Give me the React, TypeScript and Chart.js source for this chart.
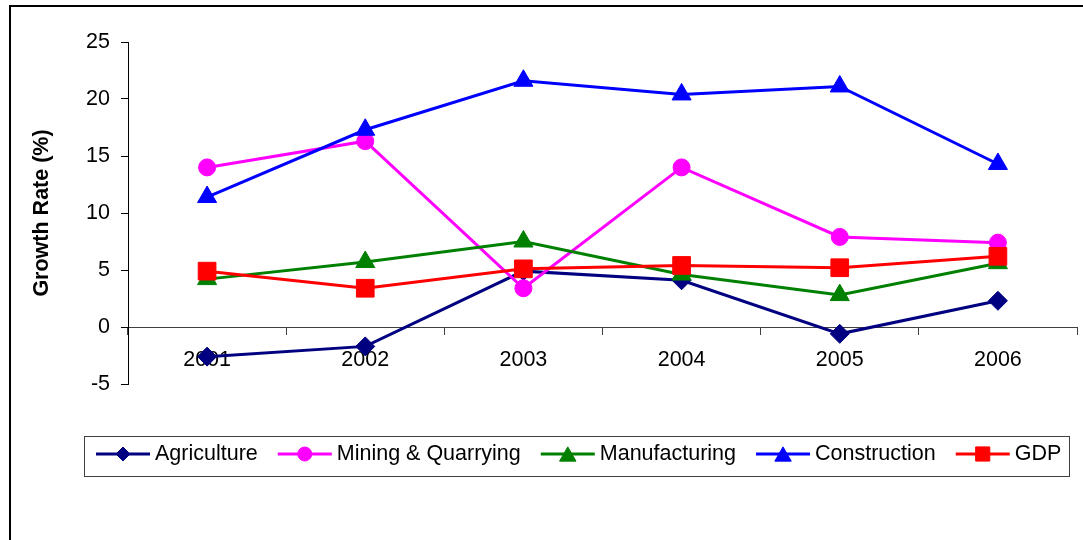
import React, { useEffect, useRef } from "react";
import { Chart, registerables } from "chart.js";
import { drawPoint } from "chart.js/helpers";

Chart.register(...registerables);

const years = ["2001", "2002", "2003", "2004", "2005", "2006"];
const agriculture = [-2.6, -1.7, 4.9, 4.1, -0.6, 2.3];
const mining = [14.0, 16.3, 3.4, 14.0, 7.9, 7.4];
const manufacturing = [4.2, 5.7, 7.5, 4.6, 2.8, 5.6];
const construction = [11.4, 17.3, 21.6, 20.4, 21.1, 14.3];
const gdp = [4.9, 3.4, 5.1, 5.4, 5.2, 6.2];
const yMin = -5;
const yMax = 25;
const yStep = 5;
const yTitle = "Growth Rate (%)";

const FONT = "'Liberation Sans', Arial, sans-serif";
const FS = 21.5;

const seriesMeta = [
  { label: "Agriculture", data: agriculture, color: "#000080", style: "rectRot", r: 9.5, lr: 7 },
  { label: "Mining & Quarrying", data: mining, color: "#FF00FF", style: "circle", r: 8.5, lr: 7 },
  { label: "Manufacturing", data: manufacturing, color: "#008000", style: "triangle", r: 11, lr: 9.5 },
  { label: "Construction", data: construction, color: "#0000FF", style: "triangle", r: 11, lr: 9.5 },
  { label: "GDP", data: gdp, color: "#FF0000", style: "rect", r: 12.5, lr: 10 },
];

const framePlugin = {
  id: "frame",
  beforeDraw(chart: any) {
    const ctx = chart.ctx;
    ctx.save();
    ctx.fillStyle = "#ffffff";
    ctx.fillRect(0, 0, chart.width, chart.height);
    ctx.strokeStyle = "#000000";
    ctx.lineWidth = 2;
    ctx.strokeRect(10, 6, chart.width + 20, chart.height + 20);
    ctx.restore();
  },
};

const legendPlugin = {
  id: "customLegend",
  afterDraw(chart: any) {
    const ctx = chart.ctx;
    ctx.save();
    const boxX = 84.5, boxY = 436.5, boxW = 985, boxH = 40;
    ctx.strokeStyle = "#404040";
    ctx.lineWidth = 1;
    ctx.strokeRect(boxX, boxY, boxW, boxH);
    ctx.font = `${FS}px ${FONT}`;
    ctx.textBaseline = "middle";
    let x = 96;
    const cy = 454;
    chart.data.datasets.forEach((ds: any, i: number) => {
      const m = seriesMeta[i];
      ctx.strokeStyle = m.color;
      ctx.lineWidth = 3;
      ctx.beginPath();
      ctx.moveTo(x, cy);
      ctx.lineTo(x + 54, cy);
      ctx.stroke();
      ctx.fillStyle = m.color;
      ctx.strokeStyle = m.color;
      ctx.lineWidth = 1;
      const off = m.style === "triangle" ? m.lr / 4 : 0;
      drawPoint(ctx, { pointStyle: m.style as any, radius: m.lr, borderWidth: 1, rotation: 0 }, x + 27, cy + off);
      ctx.fillStyle = "#000";
      ctx.font = `${FS}px ${FONT}`;
      ctx.fillText(ds.label, x + 59, cy);
      x += 59 + ctx.measureText(ds.label).width + 20;
    });
    ctx.restore();
  },
};

export default function App() {
  const ref = useRef<HTMLCanvasElement | null>(null);
  useEffect(() => {
    if (!ref.current) return;
    const chart = new Chart(ref.current, {
      type: "line",
      data: {
        labels: years,
        datasets: seriesMeta.map((m, i) => ({
          label: m.label,
          data: m.data,
          borderColor: m.color,
          backgroundColor: m.color,
          borderWidth: 3,
          pointStyle: m.style as any,
          pointRadius: m.r,
          pointHoverRadius: m.r,
          pointBorderWidth: 1,
          pointBackgroundColor: m.color,
          pointBorderColor: m.color,
          tension: 0,
          order: seriesMeta.length - i,
          clip: false as any,
        })),
      },
      options: {
        responsive: false,
        animation: false,
        maintainAspectRatio: false,
        layout: { autoPadding: false, padding: { left: 0, right: 6, top: 42, bottom: 156 } },
        plugins: {
          legend: { display: false },
          tooltip: { enabled: false },
          title: { display: false },
        },
        scales: {
          x: {
            type: "category",
            position: { y: 0 } as any,
            offset: true,
            afterFit: (scale: any) => {
              scale.paddingLeft = 0;
              scale.paddingRight = 0;
            },
            grid: {
              display: true,
              drawOnChartArea: false,
              drawTicks: true,
              tickLength: 7,
              offset: true,
              color: "#404040",
              lineWidth: 1,
            },
            border: { display: true, color: "#404040", width: 1 },
            ticks: {
              color: "#000",
              font: { family: FONT, size: FS },
              padding: 13,
              maxRotation: 0,
              autoSkip: false,
            },
          },
          y: {
            type: "linear",
            min: yMin,
            max: yMax,
            afterFit: (scale: any) => {
              scale.width = 128;
            },
            grid: {
              display: true,
              drawOnChartArea: false,
              drawTicks: true,
              tickLength: 7,
              color: "#000",
              lineWidth: 1,
            },
            border: { display: true, color: "#000", width: 1 },
            ticks: {
              stepSize: yStep,
              color: "#000",
              font: { family: FONT, size: FS },
              padding: 11,
            },
            title: {
              display: true,
              text: yTitle,
              color: "#000",
              font: { family: FONT, size: FS, weight: "bold" },
              padding: { top: 29, bottom: 0 },
            },
          },
        },
      },
      plugins: [framePlugin, legendPlugin],
    });
    return () => chart.destroy();
  }, []);
  return (
    <div style={{ position: "absolute", left: 0, top: 0, width: 1083, height: 540, overflow: "hidden", background: "#fff" }}>
      <canvas ref={ref} width={1083} height={540} style={{ display: "block", width: 1083, height: 540 }} />
    </div>
  );
}
